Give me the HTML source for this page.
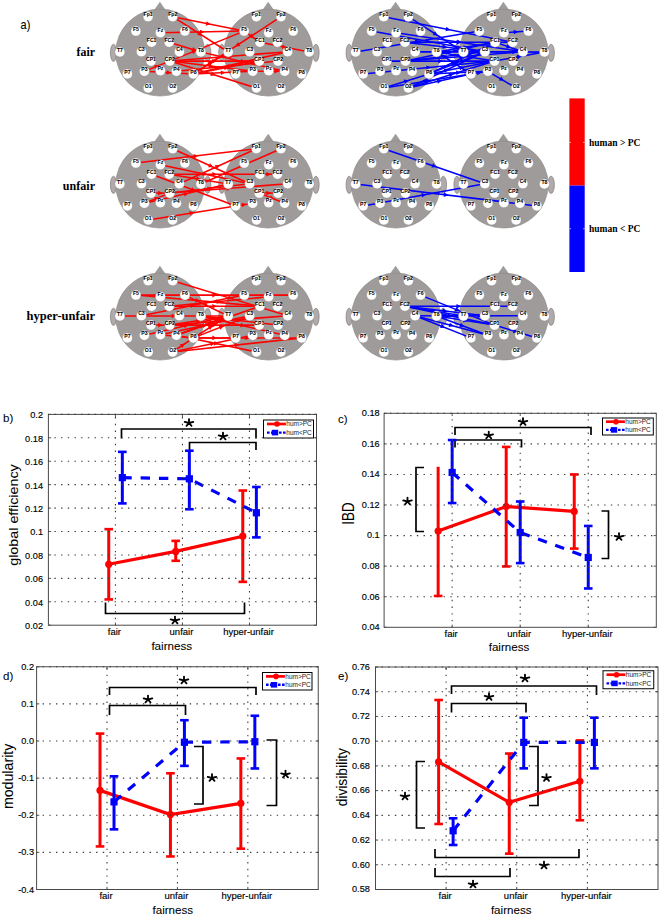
<!DOCTYPE html><html><head><meta charset="utf-8"><style>html,body{margin:0;padding:0;background:#fff;}svg{display:block;}text{font-family:"Liberation Sans",sans-serif;}.t{fill:#000;stroke:#000;stroke-width:0.15px;}</style></head><body>
<svg width="660" height="916" viewBox="0 0 660 916">
<defs><g id="headbg">
<ellipse cx="-46.4" cy="0.3" rx="3.1" ry="8.6" fill="#b1aaaa" stroke="#7f7b7b" stroke-width="0.7"/>
<ellipse cx="47.7" cy="0.3" rx="3.25" ry="8.6" fill="#b1aaaa" stroke="#7f7b7b" stroke-width="0.7"/>
<polygon points="-5.6,-42.2 0,-50.3 5.6,-42.2" fill="#9f9b9a" stroke="#8c8888" stroke-width="0.5"/>
<ellipse cx="0.3" cy="0.1" rx="44.5" ry="43.5" fill="#9f9b9a" stroke="#8c8888" stroke-width="0.6"/>
</g>
<g id="headfg">
<circle cx="-11.8" cy="-35.8" r="5.0" fill="#fff" stroke="#8a8a8a" stroke-width="0.4"/>
<circle cx="12.8" cy="-35.8" r="5.0" fill="#fff" stroke="#8a8a8a" stroke-width="0.4"/>
<circle cx="-24.0" cy="-21.400000000000002" r="5.0" fill="#fff" stroke="#8a8a8a" stroke-width="0.4"/>
<circle cx="0.5" cy="-19.8" r="5.0" fill="#fff" stroke="#8a8a8a" stroke-width="0.4"/>
<circle cx="25.0" cy="-21.400000000000002" r="5.0" fill="#fff" stroke="#8a8a8a" stroke-width="0.4"/>
<circle cx="-8.3" cy="-10.3" r="5.0" fill="#fff" stroke="#8a8a8a" stroke-width="0.4"/>
<circle cx="9.3" cy="-10.3" r="5.0" fill="#fff" stroke="#8a8a8a" stroke-width="0.4"/>
<circle cx="-40.0" cy="-0.49999999999999994" r="5.0" fill="#fff" stroke="#8a8a8a" stroke-width="0.4"/>
<circle cx="-18.5" cy="-0.8" r="5.0" fill="#fff" stroke="#8a8a8a" stroke-width="0.4"/>
<circle cx="19.5" cy="-0.8" r="5.0" fill="#fff" stroke="#8a8a8a" stroke-width="0.4"/>
<circle cx="41.0" cy="-0.49999999999999994" r="5.0" fill="#fff" stroke="#8a8a8a" stroke-width="0.4"/>
<circle cx="-8.9" cy="8.6" r="5.0" fill="#fff" stroke="#8a8a8a" stroke-width="0.4"/>
<circle cx="9.9" cy="8.6" r="5.0" fill="#fff" stroke="#8a8a8a" stroke-width="0.4"/>
<circle cx="-32.5" cy="21.4" r="5.0" fill="#fff" stroke="#8a8a8a" stroke-width="0.4"/>
<circle cx="-15.5" cy="18.8" r="5.0" fill="#fff" stroke="#8a8a8a" stroke-width="0.4"/>
<circle cx="0.5" cy="18.2" r="5.0" fill="#fff" stroke="#8a8a8a" stroke-width="0.4"/>
<circle cx="16.5" cy="18.8" r="5.0" fill="#fff" stroke="#8a8a8a" stroke-width="0.4"/>
<circle cx="33.5" cy="21.4" r="5.0" fill="#fff" stroke="#8a8a8a" stroke-width="0.4"/>
<circle cx="-11.7" cy="35.5" r="5.0" fill="#fff" stroke="#8a8a8a" stroke-width="0.4"/>
<circle cx="12.7" cy="35.5" r="5.0" fill="#fff" stroke="#8a8a8a" stroke-width="0.4"/>
<text x="-11.8" y="-36.2" text-anchor="middle" font-family="Liberation Sans" font-weight="bold" font-size="5.1" fill="#000" stroke="#000" stroke-width="0.05">Fp1</text>
<text x="12.8" y="-36.2" text-anchor="middle" font-family="Liberation Sans" font-weight="bold" font-size="5.1" fill="#000" stroke="#000" stroke-width="0.05">Fp2</text>
<text x="-24.0" y="-21.8" text-anchor="middle" font-family="Liberation Sans" font-weight="bold" font-size="5.1" fill="#000" stroke="#000" stroke-width="0.05">F5</text>
<text x="0.5" y="-20.2" text-anchor="middle" font-family="Liberation Sans" font-weight="bold" font-size="5.1" fill="#000" stroke="#000" stroke-width="0.05">Fz</text>
<text x="25.0" y="-21.8" text-anchor="middle" font-family="Liberation Sans" font-weight="bold" font-size="5.1" fill="#000" stroke="#000" stroke-width="0.05">F6</text>
<text x="-8.3" y="-10.7" text-anchor="middle" font-family="Liberation Sans" font-weight="bold" font-size="5.1" fill="#000" stroke="#000" stroke-width="0.05">FC1</text>
<text x="9.3" y="-10.7" text-anchor="middle" font-family="Liberation Sans" font-weight="bold" font-size="5.1" fill="#000" stroke="#000" stroke-width="0.05">FC2</text>
<text x="-40.0" y="-0.9" text-anchor="middle" font-family="Liberation Sans" font-weight="bold" font-size="5.1" fill="#000" stroke="#000" stroke-width="0.05">T7</text>
<text x="-18.5" y="-1.2" text-anchor="middle" font-family="Liberation Sans" font-weight="bold" font-size="5.1" fill="#000" stroke="#000" stroke-width="0.05">C3</text>
<text x="19.5" y="-1.2" text-anchor="middle" font-family="Liberation Sans" font-weight="bold" font-size="5.1" fill="#000" stroke="#000" stroke-width="0.05">C4</text>
<text x="41.0" y="-0.9" text-anchor="middle" font-family="Liberation Sans" font-weight="bold" font-size="5.1" fill="#000" stroke="#000" stroke-width="0.05">T8</text>
<text x="-8.9" y="8.2" text-anchor="middle" font-family="Liberation Sans" font-weight="bold" font-size="5.1" fill="#000" stroke="#000" stroke-width="0.05">CP1</text>
<text x="9.9" y="8.2" text-anchor="middle" font-family="Liberation Sans" font-weight="bold" font-size="5.1" fill="#000" stroke="#000" stroke-width="0.05">CP2</text>
<text x="-32.5" y="21.0" text-anchor="middle" font-family="Liberation Sans" font-weight="bold" font-size="5.1" fill="#000" stroke="#000" stroke-width="0.05">P7</text>
<text x="-15.5" y="18.4" text-anchor="middle" font-family="Liberation Sans" font-weight="bold" font-size="5.1" fill="#000" stroke="#000" stroke-width="0.05">P3</text>
<text x="0.5" y="17.8" text-anchor="middle" font-family="Liberation Sans" font-weight="bold" font-size="5.1" fill="#000" stroke="#000" stroke-width="0.05">Pz</text>
<text x="16.5" y="18.4" text-anchor="middle" font-family="Liberation Sans" font-weight="bold" font-size="5.1" fill="#000" stroke="#000" stroke-width="0.05">P4</text>
<text x="33.5" y="21.0" text-anchor="middle" font-family="Liberation Sans" font-weight="bold" font-size="5.1" fill="#000" stroke="#000" stroke-width="0.05">P8</text>
<text x="-11.7" y="35.1" text-anchor="middle" font-family="Liberation Sans" font-weight="bold" font-size="5.1" fill="#000" stroke="#000" stroke-width="0.05">O1</text>
<text x="12.7" y="35.1" text-anchor="middle" font-family="Liberation Sans" font-weight="bold" font-size="5.1" fill="#000" stroke="#000" stroke-width="0.05">O2</text>
</g><path id="star" d="M0,0 L0,-3.9 M0,0 L-4.3,-1.1 M0,0 L4.3,-1.1 M0,0 L-2.5,2.8 M0,0 L2.5,2.8" stroke="#000" stroke-width="1.85" stroke-linecap="round" fill="none"/></defs>
<rect width="660" height="916" fill="#fff"/>
<use href="#headbg" x="159.9" y="52.5"/>
<use href="#headbg" x="268.2" y="52.5"/>
<line x1="172.7" y1="16.7" x2="244.2" y2="31.1" stroke="#f00" stroke-width="1.55"/>
<polygon points="2.3,0 -2.3,-2.3 -2.3,2.3" fill="#f00" transform="translate(208.4,23.9) rotate(11.4)"/>
<line x1="172.7" y1="16.7" x2="228.2" y2="52.0" stroke="#f00" stroke-width="1.55"/>
<polygon points="2.3,0 -2.3,-2.3 -2.3,2.3" fill="#f00" transform="translate(200.4,34.4) rotate(32.5)"/>
<line x1="160.4" y1="32.7" x2="244.2" y2="31.1" stroke="#f00" stroke-width="1.55"/>
<polygon points="2.3,0 -2.3,-2.3 -2.3,2.3" fill="#f00" transform="translate(202.3,31.9) rotate(-1.1)"/>
<line x1="169.2" y1="42.2" x2="200.9" y2="52.0" stroke="#f00" stroke-width="1.55"/>
<polygon points="2.3,0 -2.3,-2.3 -2.3,2.3" fill="#f00" transform="translate(194.6,50.0) rotate(17.2)"/>
<line x1="169.8" y1="61.1" x2="244.2" y2="31.1" stroke="#f00" stroke-width="1.55"/>
<polygon points="2.3,0 -2.3,-2.3 -2.3,2.3" fill="#f00" transform="translate(194.4,51.2) rotate(-22.0)"/>
<line x1="200.9" y1="52.0" x2="284.7" y2="71.3" stroke="#f00" stroke-width="1.55"/>
<polygon points="2.3,0 -2.3,-2.3 -2.3,2.3" fill="#f00" transform="translate(242.8,61.6) rotate(13.0)"/>
<line x1="281.0" y1="16.7" x2="193.4" y2="73.9" stroke="#f00" stroke-width="1.55"/>
<polygon points="2.3,0 -2.3,-2.3 -2.3,2.3" fill="#f00" transform="translate(237.2,45.3) rotate(146.9)"/>
<line x1="244.2" y1="31.1" x2="259.9" y2="42.2" stroke="#f00" stroke-width="1.55"/>
<polygon points="2.3,0 -2.3,-2.3 -2.3,2.3" fill="#f00" transform="translate(252.0,36.6) rotate(35.3)"/>
<line x1="259.9" y1="42.2" x2="309.2" y2="52.0" stroke="#f00" stroke-width="1.55"/>
<polygon points="2.3,0 -2.3,-2.3 -2.3,2.3" fill="#f00" transform="translate(284.5,47.1) rotate(11.2)"/>
<line x1="287.7" y1="51.7" x2="169.8" y2="61.1" stroke="#f00" stroke-width="1.55"/>
<polygon points="2.3,0 -2.3,-2.3 -2.3,2.3" fill="#f00" transform="translate(228.8,56.4) rotate(175.4)"/>
<line x1="169.8" y1="61.1" x2="259.3" y2="61.1" stroke="#f00" stroke-width="1.55"/>
<polygon points="2.3,0 -2.3,-2.3 -2.3,2.3" fill="#f00" transform="translate(214.6,61.1) rotate(0.0)"/>
<line x1="169.8" y1="61.1" x2="252.7" y2="71.3" stroke="#f00" stroke-width="1.55"/>
<polygon points="2.3,0 -2.3,-2.3 -2.3,2.3" fill="#f00" transform="translate(211.2,66.2) rotate(7.0)"/>
<line x1="169.8" y1="61.1" x2="256.5" y2="88.0" stroke="#f00" stroke-width="1.55"/>
<polygon points="2.3,0 -2.3,-2.3 -2.3,2.3" fill="#f00" transform="translate(213.2,74.5) rotate(17.2)"/>
<line x1="144.4" y1="71.3" x2="169.8" y2="61.1" stroke="#f00" stroke-width="1.55"/>
<polygon points="2.3,0 -2.3,-2.3 -2.3,2.3" fill="#f00" transform="translate(157.1,66.2) rotate(-21.9)"/>
<line x1="144.4" y1="71.3" x2="193.4" y2="73.9" stroke="#f00" stroke-width="1.55"/>
<polygon points="2.3,0 -2.3,-2.3 -2.3,2.3" fill="#f00" transform="translate(168.9,72.6) rotate(3.0)"/>
<line x1="252.7" y1="71.3" x2="284.7" y2="71.3" stroke="#f00" stroke-width="1.55"/>
<polygon points="2.3,0 -2.3,-2.3 -2.3,2.3" fill="#f00" transform="translate(276.7,71.3) rotate(0.0)"/>
<line x1="193.4" y1="73.9" x2="228.2" y2="52.0" stroke="#f00" stroke-width="1.55"/>
<polygon points="2.3,0 -2.3,-2.3 -2.3,2.3" fill="#f00" transform="translate(210.8,63.0) rotate(-32.2)"/>
<line x1="193.4" y1="73.9" x2="259.3" y2="61.1" stroke="#f00" stroke-width="1.55"/>
<polygon points="2.3,0 -2.3,-2.3 -2.3,2.3" fill="#f00" transform="translate(226.4,67.5) rotate(-11.0)"/>
<line x1="193.4" y1="73.9" x2="252.7" y2="71.3" stroke="#f00" stroke-width="1.55"/>
<polygon points="2.3,0 -2.3,-2.3 -2.3,2.3" fill="#f00" transform="translate(223.1,72.6) rotate(-2.5)"/>
<line x1="278.1" y1="61.1" x2="176.4" y2="71.3" stroke="#f00" stroke-width="1.55"/>
<polygon points="2.3,0 -2.3,-2.3 -2.3,2.3" fill="#f00" transform="translate(227.2,66.2) rotate(174.3)"/>
<line x1="287.7" y1="51.7" x2="193.4" y2="73.9" stroke="#f00" stroke-width="1.55"/>
<polygon points="2.3,0 -2.3,-2.3 -2.3,2.3" fill="#f00" transform="translate(240.6,62.8) rotate(166.8)"/>
<use href="#headfg" x="159.9" y="52.5"/>
<use href="#headfg" x="268.2" y="52.5"/>
<use href="#headbg" x="395.6" y="52.5"/>
<use href="#headbg" x="503.4" y="52.5"/>
<line x1="383.8" y1="16.7" x2="512.7" y2="42.2" stroke="#00f" stroke-width="1.55"/>
<polygon points="2.3,0 -2.3,-2.3 -2.3,2.3" fill="#00f" transform="translate(448.2,29.5) rotate(11.2)"/>
<line x1="408.4" y1="16.7" x2="463.4" y2="52.0" stroke="#00f" stroke-width="1.55"/>
<polygon points="2.3,0 -2.3,-2.3 -2.3,2.3" fill="#00f" transform="translate(435.9,34.4) rotate(32.7)"/>
<line x1="371.6" y1="31.1" x2="484.9" y2="51.7" stroke="#00f" stroke-width="1.55"/>
<polygon points="2.3,0 -2.3,-2.3 -2.3,2.3" fill="#00f" transform="translate(428.2,41.4) rotate(10.3)"/>
<line x1="355.6" y1="52.0" x2="479.4" y2="31.1" stroke="#00f" stroke-width="1.55"/>
<polygon points="2.3,0 -2.3,-2.3 -2.3,2.3" fill="#00f" transform="translate(417.5,41.5) rotate(-9.6)"/>
<line x1="404.9" y1="42.2" x2="484.9" y2="51.7" stroke="#00f" stroke-width="1.55"/>
<polygon points="2.3,0 -2.3,-2.3 -2.3,2.3" fill="#00f" transform="translate(444.9,47.0) rotate(6.8)"/>
<line x1="383.9" y1="88.0" x2="429.1" y2="73.9" stroke="#00f" stroke-width="1.55"/>
<polygon points="2.3,0 -2.3,-2.3 -2.3,2.3" fill="#00f" transform="translate(406.5,81.0) rotate(-17.3)"/>
<line x1="404.9" y1="42.2" x2="512.7" y2="42.2" stroke="#00f" stroke-width="1.55"/>
<polygon points="2.3,0 -2.3,-2.3 -2.3,2.3" fill="#00f" transform="translate(458.8,42.2) rotate(0.0)"/>
<line x1="415.1" y1="51.7" x2="484.9" y2="51.7" stroke="#00f" stroke-width="1.55"/>
<polygon points="2.3,0 -2.3,-2.3 -2.3,2.3" fill="#00f" transform="translate(450.0,51.7) rotate(0.0)"/>
<line x1="436.6" y1="52.0" x2="495.1" y2="42.2" stroke="#00f" stroke-width="1.55"/>
<polygon points="2.3,0 -2.3,-2.3 -2.3,2.3" fill="#00f" transform="translate(465.9,47.1) rotate(-9.5)"/>
<line x1="386.7" y1="61.1" x2="494.5" y2="61.1" stroke="#00f" stroke-width="1.55"/>
<polygon points="2.3,0 -2.3,-2.3 -2.3,2.3" fill="#00f" transform="translate(440.6,61.1) rotate(0.0)"/>
<line x1="363.1" y1="73.9" x2="494.5" y2="61.1" stroke="#00f" stroke-width="1.55"/>
<polygon points="2.3,0 -2.3,-2.3 -2.3,2.3" fill="#00f" transform="translate(428.8,67.5) rotate(-5.6)"/>
<line x1="383.9" y1="88.0" x2="470.9" y2="73.9" stroke="#00f" stroke-width="1.55"/>
<polygon points="2.3,0 -2.3,-2.3 -2.3,2.3" fill="#00f" transform="translate(427.4,81.0) rotate(-9.2)"/>
<line x1="408.3" y1="88.0" x2="484.9" y2="51.7" stroke="#00f" stroke-width="1.55"/>
<polygon points="2.3,0 -2.3,-2.3 -2.3,2.3" fill="#00f" transform="translate(446.6,69.8) rotate(-25.4)"/>
<line x1="408.3" y1="88.0" x2="494.5" y2="61.1" stroke="#00f" stroke-width="1.55"/>
<polygon points="2.3,0 -2.3,-2.3 -2.3,2.3" fill="#00f" transform="translate(451.4,74.5) rotate(-17.3)"/>
<line x1="429.1" y1="73.9" x2="495.1" y2="42.2" stroke="#00f" stroke-width="1.55"/>
<polygon points="2.3,0 -2.3,-2.3 -2.3,2.3" fill="#00f" transform="translate(462.1,58.1) rotate(-25.7)"/>
<line x1="429.1" y1="73.9" x2="484.9" y2="51.7" stroke="#00f" stroke-width="1.55"/>
<polygon points="2.3,0 -2.3,-2.3 -2.3,2.3" fill="#00f" transform="translate(457.0,62.8) rotate(-21.7)"/>
<line x1="429.1" y1="73.9" x2="487.9" y2="71.3" stroke="#00f" stroke-width="1.55"/>
<polygon points="2.3,0 -2.3,-2.3 -2.3,2.3" fill="#00f" transform="translate(458.5,72.6) rotate(-2.5)"/>
<line x1="405.5" y1="61.1" x2="484.9" y2="51.7" stroke="#00f" stroke-width="1.55"/>
<polygon points="2.3,0 -2.3,-2.3 -2.3,2.3" fill="#00f" transform="translate(445.2,56.4) rotate(-6.8)"/>
<line x1="436.6" y1="52.0" x2="494.5" y2="61.1" stroke="#00f" stroke-width="1.55"/>
<polygon points="2.3,0 -2.3,-2.3 -2.3,2.3" fill="#00f" transform="translate(465.6,56.5) rotate(8.9)"/>
<line x1="415.1" y1="51.7" x2="544.4" y2="52.0" stroke="#00f" stroke-width="1.55"/>
<polygon points="2.3,0 -2.3,-2.3 -2.3,2.3" fill="#00f" transform="translate(479.8,51.9) rotate(0.1)"/>
<line x1="495.1" y1="42.2" x2="522.9" y2="51.7" stroke="#00f" stroke-width="1.55"/>
<polygon points="2.3,0 -2.3,-2.3 -2.3,2.3" fill="#00f" transform="translate(509.0,47.0) rotate(18.9)"/>
<line x1="503.9" y1="32.7" x2="528.4" y2="31.1" stroke="#00f" stroke-width="1.55"/>
<polygon points="2.3,0 -2.3,-2.3 -2.3,2.3" fill="#00f" transform="translate(516.1,31.9) rotate(-3.7)"/>
<line x1="487.9" y1="71.3" x2="516.1" y2="88.0" stroke="#00f" stroke-width="1.55"/>
<polygon points="2.3,0 -2.3,-2.3 -2.3,2.3" fill="#00f" transform="translate(502.0,79.7) rotate(30.6)"/>
<line x1="470.9" y1="73.9" x2="487.9" y2="71.3" stroke="#00f" stroke-width="1.55"/>
<polygon points="2.3,0 -2.3,-2.3 -2.3,2.3" fill="#00f" transform="translate(479.4,72.6) rotate(-8.7)"/>
<line x1="484.9" y1="51.7" x2="544.4" y2="52.0" stroke="#00f" stroke-width="1.55"/>
<polygon points="2.3,0 -2.3,-2.3 -2.3,2.3" fill="#00f" transform="translate(514.6,51.9) rotate(0.3)"/>
<line x1="405.5" y1="61.1" x2="495.1" y2="42.2" stroke="#00f" stroke-width="1.55"/>
<polygon points="2.3,0 -2.3,-2.3 -2.3,2.3" fill="#00f" transform="translate(450.3,51.7) rotate(-11.9)"/>
<line x1="408.3" y1="88.0" x2="470.9" y2="73.9" stroke="#00f" stroke-width="1.55"/>
<polygon points="2.3,0 -2.3,-2.3 -2.3,2.3" fill="#00f" transform="translate(439.6,81.0) rotate(-12.7)"/>
<line x1="429.1" y1="73.9" x2="494.5" y2="61.1" stroke="#00f" stroke-width="1.55"/>
<polygon points="2.3,0 -2.3,-2.3 -2.3,2.3" fill="#00f" transform="translate(461.8,67.5) rotate(-11.1)"/>
<line x1="436.6" y1="52.0" x2="470.9" y2="73.9" stroke="#00f" stroke-width="1.55"/>
<polygon points="2.3,0 -2.3,-2.3 -2.3,2.3" fill="#00f" transform="translate(453.8,63.0) rotate(32.6)"/>
<line x1="494.5" y1="61.1" x2="544.4" y2="52.0" stroke="#00f" stroke-width="1.55"/>
<polygon points="2.3,0 -2.3,-2.3 -2.3,2.3" fill="#00f" transform="translate(519.5,56.5) rotate(-10.3)"/>
<line x1="405.5" y1="61.1" x2="522.9" y2="51.7" stroke="#00f" stroke-width="1.55"/>
<polygon points="2.3,0 -2.3,-2.3 -2.3,2.3" fill="#00f" transform="translate(464.2,56.4) rotate(-4.6)"/>
<line x1="396.1" y1="32.7" x2="522.9" y2="51.7" stroke="#00f" stroke-width="1.55"/>
<polygon points="2.3,0 -2.3,-2.3 -2.3,2.3" fill="#00f" transform="translate(459.5,42.2) rotate(8.5)"/>
<use href="#headfg" x="395.6" y="52.5"/>
<use href="#headfg" x="503.4" y="52.5"/>
<use href="#headbg" x="159.9" y="184.5"/>
<use href="#headbg" x="268.2" y="184.5"/>
<line x1="135.9" y1="163.1" x2="256.4" y2="148.7" stroke="#f00" stroke-width="1.55"/>
<polygon points="2.3,0 -2.3,-2.3 -2.3,2.3" fill="#f00" transform="translate(196.1,155.9) rotate(-6.8)"/>
<line x1="172.7" y1="148.7" x2="249.7" y2="183.7" stroke="#f00" stroke-width="1.55"/>
<polygon points="2.3,0 -2.3,-2.3 -2.3,2.3" fill="#f00" transform="translate(211.2,166.2) rotate(24.4)"/>
<line x1="160.4" y1="164.7" x2="249.7" y2="183.7" stroke="#f00" stroke-width="1.55"/>
<polygon points="2.3,0 -2.3,-2.3 -2.3,2.3" fill="#f00" transform="translate(205.1,174.2) rotate(12.0)"/>
<line x1="169.2" y1="174.2" x2="259.9" y2="174.2" stroke="#f00" stroke-width="1.55"/>
<polygon points="2.3,0 -2.3,-2.3 -2.3,2.3" fill="#f00" transform="translate(214.6,174.2) rotate(0.0)"/>
<line x1="169.2" y1="174.2" x2="228.2" y2="184.0" stroke="#f00" stroke-width="1.55"/>
<polygon points="2.3,0 -2.3,-2.3 -2.3,2.3" fill="#f00" transform="translate(198.7,179.1) rotate(9.4)"/>
<line x1="151.6" y1="174.2" x2="235.7" y2="205.9" stroke="#f00" stroke-width="1.55"/>
<polygon points="2.3,0 -2.3,-2.3 -2.3,2.3" fill="#f00" transform="translate(193.6,190.1) rotate(20.7)"/>
<line x1="169.8" y1="193.1" x2="287.7" y2="183.7" stroke="#f00" stroke-width="1.55"/>
<polygon points="2.3,0 -2.3,-2.3 -2.3,2.3" fill="#f00" transform="translate(228.8,188.4) rotate(-4.6)"/>
<line x1="169.8" y1="193.1" x2="249.7" y2="183.7" stroke="#f00" stroke-width="1.55"/>
<polygon points="2.3,0 -2.3,-2.3 -2.3,2.3" fill="#f00" transform="translate(209.8,188.4) rotate(-6.7)"/>
<line x1="144.4" y1="203.3" x2="169.8" y2="193.1" stroke="#f00" stroke-width="1.55"/>
<polygon points="2.3,0 -2.3,-2.3 -2.3,2.3" fill="#f00" transform="translate(157.1,198.2) rotate(-21.9)"/>
<line x1="144.4" y1="203.3" x2="228.2" y2="184.0" stroke="#f00" stroke-width="1.55"/>
<polygon points="2.3,0 -2.3,-2.3 -2.3,2.3" fill="#f00" transform="translate(186.3,193.7) rotate(-13.0)"/>
<line x1="151.0" y1="193.1" x2="169.8" y2="193.1" stroke="#f00" stroke-width="1.55"/>
<polygon points="2.3,0 -2.3,-2.3 -2.3,2.3" fill="#f00" transform="translate(160.4,193.1) rotate(0.0)"/>
<line x1="148.2" y1="220.0" x2="235.7" y2="205.9" stroke="#f00" stroke-width="1.55"/>
<polygon points="2.3,0 -2.3,-2.3 -2.3,2.3" fill="#f00" transform="translate(191.9,212.9) rotate(-9.2)"/>
<line x1="281.0" y1="148.7" x2="200.9" y2="184.0" stroke="#f00" stroke-width="1.55"/>
<polygon points="2.3,0 -2.3,-2.3 -2.3,2.3" fill="#f00" transform="translate(240.9,166.3) rotate(156.2)"/>
<line x1="259.9" y1="174.2" x2="277.5" y2="174.2" stroke="#f00" stroke-width="1.55"/>
<polygon points="2.3,0 -2.3,-2.3 -2.3,2.3" fill="#f00" transform="translate(268.7,174.2) rotate(0.0)"/>
<line x1="259.3" y1="193.1" x2="284.7" y2="203.3" stroke="#f00" stroke-width="1.55"/>
<polygon points="2.3,0 -2.3,-2.3 -2.3,2.3" fill="#f00" transform="translate(272.0,198.2) rotate(21.9)"/>
<line x1="259.3" y1="193.1" x2="278.1" y2="193.1" stroke="#f00" stroke-width="1.55"/>
<polygon points="2.3,0 -2.3,-2.3 -2.3,2.3" fill="#f00" transform="translate(268.7,193.1) rotate(0.0)"/>
<line x1="235.7" y1="205.9" x2="252.7" y2="203.3" stroke="#f00" stroke-width="1.55"/>
<polygon points="2.3,0 -2.3,-2.3 -2.3,2.3" fill="#f00" transform="translate(244.2,204.6) rotate(-8.7)"/>
<line x1="179.4" y1="183.7" x2="256.4" y2="148.7" stroke="#f00" stroke-width="1.55"/>
<polygon points="2.3,0 -2.3,-2.3 -2.3,2.3" fill="#f00" transform="translate(217.9,166.2) rotate(-24.4)"/>
<use href="#headfg" x="159.9" y="184.5"/>
<use href="#headfg" x="268.2" y="184.5"/>
<use href="#headbg" x="395.6" y="184.5"/>
<use href="#headbg" x="503.4" y="184.5"/>
<line x1="383.8" y1="148.7" x2="484.9" y2="183.7" stroke="#00f" stroke-width="1.55"/>
<polygon points="2.3,0 -2.3,-2.3 -2.3,2.3" fill="#00f" transform="translate(434.4,166.2) rotate(19.1)"/>
<line x1="355.6" y1="184.0" x2="536.9" y2="205.9" stroke="#00f" stroke-width="1.55"/>
<polygon points="2.3,0 -2.3,-2.3 -2.3,2.3" fill="#00f" transform="translate(446.2,194.9) rotate(6.9)"/>
<line x1="363.1" y1="205.9" x2="484.9" y2="183.7" stroke="#00f" stroke-width="1.55"/>
<polygon points="2.3,0 -2.3,-2.3 -2.3,2.3" fill="#00f" transform="translate(424.0,194.8) rotate(-10.3)"/>
<use href="#headfg" x="395.6" y="184.5"/>
<use href="#headfg" x="503.4" y="184.5"/>
<use href="#headbg" x="159.9" y="316.5"/>
<use href="#headbg" x="268.2" y="316.5"/>
<line x1="172.7" y1="280.7" x2="287.7" y2="315.7" stroke="#f00" stroke-width="1.55"/>
<polygon points="2.3,0 -2.3,-2.3 -2.3,2.3" fill="#f00" transform="translate(230.2,298.2) rotate(16.9)"/>
<line x1="135.9" y1="295.1" x2="293.2" y2="295.1" stroke="#f00" stroke-width="1.55"/>
<polygon points="2.3,0 -2.3,-2.3 -2.3,2.3" fill="#f00" transform="translate(214.6,295.1) rotate(0.0)"/>
<line x1="135.9" y1="295.1" x2="259.9" y2="306.2" stroke="#f00" stroke-width="1.55"/>
<polygon points="2.3,0 -2.3,-2.3 -2.3,2.3" fill="#f00" transform="translate(197.9,300.6) rotate(5.1)"/>
<line x1="141.4" y1="315.7" x2="244.2" y2="295.1" stroke="#f00" stroke-width="1.55"/>
<polygon points="2.3,0 -2.3,-2.3 -2.3,2.3" fill="#f00" transform="translate(192.8,305.4) rotate(-11.3)"/>
<line x1="184.9" y1="295.1" x2="228.2" y2="316.0" stroke="#f00" stroke-width="1.55"/>
<polygon points="2.3,0 -2.3,-2.3 -2.3,2.3" fill="#f00" transform="translate(206.6,305.6) rotate(25.8)"/>
<line x1="169.2" y1="306.2" x2="259.9" y2="306.2" stroke="#f00" stroke-width="1.55"/>
<polygon points="2.3,0 -2.3,-2.3 -2.3,2.3" fill="#f00" transform="translate(214.6,306.2) rotate(0.0)"/>
<line x1="169.2" y1="306.2" x2="268.7" y2="296.7" stroke="#f00" stroke-width="1.55"/>
<polygon points="2.3,0 -2.3,-2.3 -2.3,2.3" fill="#f00" transform="translate(218.9,301.4) rotate(-5.5)"/>
<line x1="119.9" y1="316.0" x2="228.2" y2="316.0" stroke="#f00" stroke-width="1.55"/>
<polygon points="2.3,0 -2.3,-2.3 -2.3,2.3" fill="#f00" transform="translate(174.1,316.0) rotate(0.0)"/>
<line x1="169.8" y1="325.1" x2="228.2" y2="316.0" stroke="#f00" stroke-width="1.55"/>
<polygon points="2.3,0 -2.3,-2.3 -2.3,2.3" fill="#f00" transform="translate(199.0,320.6) rotate(-8.9)"/>
<line x1="169.8" y1="325.1" x2="287.7" y2="315.7" stroke="#f00" stroke-width="1.55"/>
<polygon points="2.3,0 -2.3,-2.3 -2.3,2.3" fill="#f00" transform="translate(228.8,320.4) rotate(-4.6)"/>
<line x1="144.4" y1="335.3" x2="228.2" y2="316.0" stroke="#f00" stroke-width="1.55"/>
<polygon points="2.3,0 -2.3,-2.3 -2.3,2.3" fill="#f00" transform="translate(186.3,325.6) rotate(-13.0)"/>
<line x1="176.4" y1="335.3" x2="228.2" y2="316.0" stroke="#f00" stroke-width="1.55"/>
<polygon points="2.3,0 -2.3,-2.3 -2.3,2.3" fill="#f00" transform="translate(202.3,325.6) rotate(-20.4)"/>
<line x1="193.4" y1="337.9" x2="228.2" y2="316.0" stroke="#f00" stroke-width="1.55"/>
<polygon points="2.3,0 -2.3,-2.3 -2.3,2.3" fill="#f00" transform="translate(210.8,326.9) rotate(-32.2)"/>
<line x1="193.4" y1="337.9" x2="249.7" y2="315.7" stroke="#f00" stroke-width="1.55"/>
<polygon points="2.3,0 -2.3,-2.3 -2.3,2.3" fill="#f00" transform="translate(221.6,326.8) rotate(-21.5)"/>
<line x1="193.4" y1="337.9" x2="235.7" y2="337.9" stroke="#f00" stroke-width="1.55"/>
<polygon points="2.3,0 -2.3,-2.3 -2.3,2.3" fill="#f00" transform="translate(214.6,337.9) rotate(0.0)"/>
<line x1="193.4" y1="337.9" x2="301.7" y2="337.9" stroke="#f00" stroke-width="1.55"/>
<polygon points="2.3,0 -2.3,-2.3 -2.3,2.3" fill="#f00" transform="translate(247.6,337.9) rotate(0.0)"/>
<line x1="172.6" y1="352.0" x2="252.7" y2="335.3" stroke="#f00" stroke-width="1.55"/>
<polygon points="2.3,0 -2.3,-2.3 -2.3,2.3" fill="#f00" transform="translate(212.6,343.6) rotate(-11.8)"/>
<line x1="172.6" y1="352.0" x2="193.4" y2="337.9" stroke="#f00" stroke-width="1.55"/>
<polygon points="2.3,0 -2.3,-2.3 -2.3,2.3" fill="#f00" transform="translate(183.0,344.9) rotate(-34.1)"/>
<line x1="172.6" y1="352.0" x2="301.7" y2="337.9" stroke="#f00" stroke-width="1.55"/>
<polygon points="2.3,0 -2.3,-2.3 -2.3,2.3" fill="#f00" transform="translate(237.1,344.9) rotate(-6.2)"/>
<line x1="176.4" y1="335.3" x2="256.5" y2="352.0" stroke="#f00" stroke-width="1.55"/>
<polygon points="2.3,0 -2.3,-2.3 -2.3,2.3" fill="#f00" transform="translate(216.4,343.6) rotate(11.8)"/>
<line x1="176.4" y1="335.3" x2="259.9" y2="306.2" stroke="#f00" stroke-width="1.55"/>
<polygon points="2.3,0 -2.3,-2.3 -2.3,2.3" fill="#f00" transform="translate(218.1,320.8) rotate(-19.2)"/>
<line x1="160.4" y1="334.7" x2="249.7" y2="315.7" stroke="#f00" stroke-width="1.55"/>
<polygon points="2.3,0 -2.3,-2.3 -2.3,2.3" fill="#f00" transform="translate(205.1,325.2) rotate(-12.0)"/>
<line x1="151.0" y1="325.1" x2="169.8" y2="325.1" stroke="#f00" stroke-width="1.55"/>
<polygon points="2.3,0 -2.3,-2.3 -2.3,2.3" fill="#f00" transform="translate(160.4,325.1) rotate(0.0)"/>
<line x1="200.9" y1="316.0" x2="278.1" y2="325.1" stroke="#f00" stroke-width="1.55"/>
<polygon points="2.3,0 -2.3,-2.3 -2.3,2.3" fill="#f00" transform="translate(239.5,320.6) rotate(6.7)"/>
<line x1="200.9" y1="316.0" x2="284.7" y2="335.3" stroke="#f00" stroke-width="1.55"/>
<polygon points="2.3,0 -2.3,-2.3 -2.3,2.3" fill="#f00" transform="translate(242.8,325.6) rotate(13.0)"/>
<line x1="169.8" y1="325.1" x2="259.3" y2="325.1" stroke="#f00" stroke-width="1.55"/>
<polygon points="2.3,0 -2.3,-2.3 -2.3,2.3" fill="#f00" transform="translate(214.6,325.1) rotate(0.0)"/>
<line x1="160.4" y1="334.7" x2="193.4" y2="337.9" stroke="#f00" stroke-width="1.55"/>
<polygon points="2.3,0 -2.3,-2.3 -2.3,2.3" fill="#f00" transform="translate(176.9,336.3) rotate(5.5)"/>
<use href="#headfg" x="159.9" y="316.5"/>
<use href="#headfg" x="268.2" y="316.5"/>
<use href="#headbg" x="395.6" y="316.5"/>
<use href="#headbg" x="503.4" y="316.5"/>
<line x1="420.6" y1="295.1" x2="494.5" y2="325.1" stroke="#00f" stroke-width="1.55"/>
<polygon points="2.3,0 -2.3,-2.3 -2.3,2.3" fill="#00f" transform="translate(457.6,310.1) rotate(22.1)"/>
<line x1="404.9" y1="306.2" x2="512.7" y2="306.2" stroke="#00f" stroke-width="1.55"/>
<polygon points="2.3,0 -2.3,-2.3 -2.3,2.3" fill="#00f" transform="translate(458.8,306.2) rotate(0.0)"/>
<line x1="404.9" y1="306.2" x2="463.4" y2="316.0" stroke="#00f" stroke-width="1.55"/>
<polygon points="2.3,0 -2.3,-2.3 -2.3,2.3" fill="#00f" transform="translate(434.1,311.1) rotate(9.5)"/>
<line x1="404.9" y1="306.2" x2="484.9" y2="315.7" stroke="#00f" stroke-width="1.55"/>
<polygon points="2.3,0 -2.3,-2.3 -2.3,2.3" fill="#00f" transform="translate(444.9,310.9) rotate(6.8)"/>
<line x1="404.9" y1="306.2" x2="494.5" y2="325.1" stroke="#00f" stroke-width="1.55"/>
<polygon points="2.3,0 -2.3,-2.3 -2.3,2.3" fill="#00f" transform="translate(449.7,315.6) rotate(11.9)"/>
<line x1="415.1" y1="315.7" x2="470.9" y2="337.9" stroke="#00f" stroke-width="1.55"/>
<polygon points="2.3,0 -2.3,-2.3 -2.3,2.3" fill="#00f" transform="translate(443.0,326.8) rotate(21.7)"/>
<line x1="415.1" y1="315.7" x2="487.9" y2="335.3" stroke="#00f" stroke-width="1.55"/>
<polygon points="2.3,0 -2.3,-2.3 -2.3,2.3" fill="#00f" transform="translate(451.5,325.5) rotate(15.1)"/>
<line x1="436.6" y1="316.0" x2="522.9" y2="315.7" stroke="#00f" stroke-width="1.55"/>
<polygon points="2.3,0 -2.3,-2.3 -2.3,2.3" fill="#00f" transform="translate(479.8,315.9) rotate(-0.2)"/>
<line x1="436.6" y1="316.0" x2="494.5" y2="325.1" stroke="#00f" stroke-width="1.55"/>
<polygon points="2.3,0 -2.3,-2.3 -2.3,2.3" fill="#00f" transform="translate(465.6,320.6) rotate(8.9)"/>
<line x1="415.1" y1="315.7" x2="463.4" y2="316.0" stroke="#00f" stroke-width="1.55"/>
<polygon points="2.3,0 -2.3,-2.3 -2.3,2.3" fill="#00f" transform="translate(439.2,315.9) rotate(0.4)"/>
<line x1="494.5" y1="325.1" x2="536.9" y2="337.9" stroke="#00f" stroke-width="1.55"/>
<polygon points="2.3,0 -2.3,-2.3 -2.3,2.3" fill="#00f" transform="translate(515.7,331.5) rotate(16.8)"/>
<line x1="436.6" y1="316.0" x2="487.9" y2="335.3" stroke="#00f" stroke-width="1.55"/>
<polygon points="2.3,0 -2.3,-2.3 -2.3,2.3" fill="#00f" transform="translate(462.2,325.6) rotate(20.6)"/>
<use href="#headfg" x="395.6" y="316.5"/>
<use href="#headfg" x="503.4" y="316.5"/>
<text transform="translate(20.6,29.4) scale(0.95,1.1)" font-size="11.5" class="t" style="stroke-width:0.1px">a)</text>
<text x="76.6" y="55.8" textLength="18.4" lengthAdjust="spacingAndGlyphs" font-family="Liberation Serif" style="font-family:'Liberation Serif'" font-weight="bold" font-size="12" fill="#000">fair</text>
<text x="62.8" y="189.5" textLength="32.2" lengthAdjust="spacingAndGlyphs" font-family="Liberation Serif" style="font-family:'Liberation Serif'" font-weight="bold" font-size="12" fill="#000">unfair</text>
<text x="26.6" y="319.5" textLength="68.4" lengthAdjust="spacingAndGlyphs" font-family="Liberation Serif" style="font-family:'Liberation Serif'" font-weight="bold" font-size="12" fill="#000">hyper-unfair</text>
<rect x="569.4" y="98.4" width="15.3" height="87.2" fill="#f00"/>
<rect x="569.4" y="185.6" width="15.3" height="86.4" fill="#00f"/>
<line x1="569.4" y1="142.4" x2="571" y2="142.4" stroke="#fff" stroke-width="0.6"/><line x1="583.1" y1="142.4" x2="584.7" y2="142.4" stroke="#fff" stroke-width="0.6"/>
<line x1="569.4" y1="228.7" x2="571" y2="228.7" stroke="#fff" stroke-width="0.6"/><line x1="583.1" y1="228.7" x2="584.7" y2="228.7" stroke="#fff" stroke-width="0.6"/>
<text x="589" y="146" textLength="51.4" lengthAdjust="spacingAndGlyphs" style="font-family:'Liberation Serif'" font-weight="bold" font-size="10" fill="#000">human &gt; PC</text>
<text x="589" y="232.3" textLength="51.4" lengthAdjust="spacingAndGlyphs" style="font-family:'Liberation Serif'" font-weight="bold" font-size="10" fill="#000">human &lt; PC</text>
<line x1="48.4" y1="625.20" x2="51.1" y2="625.20" stroke="#444" stroke-width="0.9"/>
<line x1="316.5" y1="625.20" x2="313.8" y2="625.20" stroke="#444" stroke-width="0.9"/>
<line x1="48.4" y1="601.78" x2="51.1" y2="601.78" stroke="#444" stroke-width="0.9"/>
<line x1="316.5" y1="601.78" x2="313.8" y2="601.78" stroke="#444" stroke-width="0.9"/>
<line x1="48.4" y1="578.36" x2="51.1" y2="578.36" stroke="#444" stroke-width="0.9"/>
<line x1="316.5" y1="578.36" x2="313.8" y2="578.36" stroke="#444" stroke-width="0.9"/>
<line x1="48.4" y1="554.93" x2="51.1" y2="554.93" stroke="#444" stroke-width="0.9"/>
<line x1="316.5" y1="554.93" x2="313.8" y2="554.93" stroke="#444" stroke-width="0.9"/>
<line x1="48.4" y1="531.51" x2="51.1" y2="531.51" stroke="#444" stroke-width="0.9"/>
<line x1="316.5" y1="531.51" x2="313.8" y2="531.51" stroke="#444" stroke-width="0.9"/>
<line x1="48.4" y1="508.09" x2="51.1" y2="508.09" stroke="#444" stroke-width="0.9"/>
<line x1="316.5" y1="508.09" x2="313.8" y2="508.09" stroke="#444" stroke-width="0.9"/>
<line x1="48.4" y1="484.67" x2="51.1" y2="484.67" stroke="#444" stroke-width="0.9"/>
<line x1="316.5" y1="484.67" x2="313.8" y2="484.67" stroke="#444" stroke-width="0.9"/>
<line x1="48.4" y1="461.24" x2="51.1" y2="461.24" stroke="#444" stroke-width="0.9"/>
<line x1="316.5" y1="461.24" x2="313.8" y2="461.24" stroke="#444" stroke-width="0.9"/>
<line x1="48.4" y1="437.82" x2="51.1" y2="437.82" stroke="#444" stroke-width="0.9"/>
<line x1="316.5" y1="437.82" x2="313.8" y2="437.82" stroke="#444" stroke-width="0.9"/>
<line x1="48.4" y1="414.40" x2="51.1" y2="414.40" stroke="#444" stroke-width="0.9"/>
<line x1="316.5" y1="414.40" x2="313.8" y2="414.40" stroke="#444" stroke-width="0.9"/>
<line x1="115.43" y1="625.2" x2="115.43" y2="622.5" stroke="#444" stroke-width="0.9"/>
<line x1="115.43" y1="414.4" x2="115.43" y2="417.09999999999997" stroke="#444" stroke-width="0.9"/>
<line x1="182.45" y1="625.2" x2="182.45" y2="622.5" stroke="#444" stroke-width="0.9"/>
<line x1="182.45" y1="414.4" x2="182.45" y2="417.09999999999997" stroke="#444" stroke-width="0.9"/>
<line x1="249.48" y1="625.2" x2="249.48" y2="622.5" stroke="#444" stroke-width="0.9"/>
<line x1="249.48" y1="414.4" x2="249.48" y2="417.09999999999997" stroke="#444" stroke-width="0.9"/>
<rect x="48.4" y="414.4" width="268.1" height="210.80000000000007" fill="none" stroke="#4a4a4a" stroke-width="1"/>
<text transform="translate(43.00,629.10) scale(1,1.08)" text-anchor="end" font-size="9.2" class="t">0.02</text>
<text transform="translate(43.00,605.68) scale(1,1.08)" text-anchor="end" font-size="9.2" class="t">0.04</text>
<text transform="translate(43.00,582.26) scale(1,1.08)" text-anchor="end" font-size="9.2" class="t">0.06</text>
<text transform="translate(43.00,558.83) scale(1,1.08)" text-anchor="end" font-size="9.2" class="t">0.08</text>
<text transform="translate(43.00,535.41) scale(1,1.08)" text-anchor="end" font-size="9.2" class="t">0.1</text>
<text transform="translate(43.00,511.99) scale(1,1.08)" text-anchor="end" font-size="9.2" class="t">0.12</text>
<text transform="translate(43.00,488.57) scale(1,1.08)" text-anchor="end" font-size="9.2" class="t">0.14</text>
<text transform="translate(43.00,465.14) scale(1,1.08)" text-anchor="end" font-size="9.2" class="t">0.16</text>
<text transform="translate(43.00,441.72) scale(1,1.08)" text-anchor="end" font-size="9.2" class="t">0.18</text>
<text transform="translate(43.00,418.30) scale(1,1.08)" text-anchor="end" font-size="9.2" class="t">0.2</text>
<text x="114.43" y="634.6" text-anchor="middle" font-size="9.5" class="t">fair</text>
<text x="181.45" y="634.6" text-anchor="middle" font-size="9.5" class="t">unfair</text>
<text x="248.48" y="634.6" text-anchor="middle" font-size="9.5" class="t">hyper-unfair</text>
<text x="171.7" y="649.5" text-anchor="middle" font-size="11.6" class="t" style="stroke-width:0.08px">fairness</text>
<text transform="translate(18.4,515) rotate(-90) scale(1.06,1)" text-anchor="middle" font-size="13.5" class="t" style="stroke-width:0.05px">global efficiency</text>
<text x="3" y="421.8" font-size="11.5" class="t" style="stroke-width:0.05px">b)</text>
<polyline points="121.5,438.5 121.5,429 256,429 256,438.5" fill="none" stroke="#000" stroke-width="1.7"/>
<polyline points="189.5,450 189.5,442.5 256,442.5 256,450" fill="none" stroke="#000" stroke-width="1.7"/>
<polyline points="105.5,602.5 105.5,613.5 244.5,613.5 244.5,602.5" fill="none" stroke="#000" stroke-width="1.7"/>
<use href="#star" x="189" y="423.0"/>
<use href="#star" x="223" y="436.5"/>
<use href="#star" x="175" y="620.5"/>
<line x1="108.73" y1="599.44" x2="108.73" y2="529.17" stroke="#f00" stroke-width="3"/>
<line x1="104.43" y1="599.44" x2="113.03" y2="599.44" stroke="#f00" stroke-width="2.6"/>
<line x1="104.43" y1="529.17" x2="113.03" y2="529.17" stroke="#f00" stroke-width="2.6"/>
<line x1="175.75" y1="560.79" x2="175.75" y2="540.88" stroke="#f00" stroke-width="3"/>
<line x1="171.45" y1="560.79" x2="180.05" y2="560.79" stroke="#f00" stroke-width="2.6"/>
<line x1="171.45" y1="540.88" x2="180.05" y2="540.88" stroke="#f00" stroke-width="2.6"/>
<line x1="242.78" y1="581.87" x2="242.78" y2="490.52" stroke="#f00" stroke-width="3"/>
<line x1="238.48" y1="581.87" x2="247.08" y2="581.87" stroke="#f00" stroke-width="2.6"/>
<line x1="238.48" y1="490.52" x2="247.08" y2="490.52" stroke="#f00" stroke-width="2.6"/>
<polyline points="108.73,564.30 175.75,551.42 242.78,536.20" fill="none" stroke="#f00" stroke-width="3.2"/>
<circle cx="108.73" cy="564.30" r="3.6" fill="#f00"/>
<circle cx="175.75" cy="551.42" r="3.6" fill="#f00"/>
<circle cx="242.78" cy="536.20" r="3.6" fill="#f00"/>
<line x1="122.33" y1="503.40" x2="122.33" y2="451.88" stroke="#00f" stroke-width="3"/>
<line x1="118.03" y1="503.40" x2="126.63" y2="503.40" stroke="#00f" stroke-width="2.6"/>
<line x1="118.03" y1="451.88" x2="126.63" y2="451.88" stroke="#00f" stroke-width="2.6"/>
<line x1="189.35" y1="509.26" x2="189.35" y2="450.70" stroke="#00f" stroke-width="3"/>
<line x1="185.05" y1="509.26" x2="193.65" y2="509.26" stroke="#00f" stroke-width="2.6"/>
<line x1="185.05" y1="450.70" x2="193.65" y2="450.70" stroke="#00f" stroke-width="2.6"/>
<line x1="256.38" y1="537.37" x2="256.38" y2="487.01" stroke="#00f" stroke-width="3"/>
<line x1="252.07" y1="537.37" x2="260.68" y2="537.37" stroke="#00f" stroke-width="2.6"/>
<line x1="252.07" y1="487.01" x2="260.68" y2="487.01" stroke="#00f" stroke-width="2.6"/>
<polyline points="122.33,477.64 189.35,478.81 256.38,512.77" fill="none" stroke="#00f" stroke-width="3.2" stroke-dasharray="9.4 8.9"/>
<rect x="118.73" y="474.04" width="7.2" height="7.2" fill="#00f"/>
<rect x="185.75" y="475.21" width="7.2" height="7.2" fill="#00f"/>
<rect x="252.78" y="509.17" width="7.2" height="7.2" fill="#00f"/>
<line x1="48.4" y1="601.78" x2="316.5" y2="601.78" stroke="#3a3a3a" stroke-width="1.1" stroke-dasharray="1.4 5.29" stroke-dashoffset="0.7"/>
<line x1="48.4" y1="578.36" x2="316.5" y2="578.36" stroke="#3a3a3a" stroke-width="1.1" stroke-dasharray="1.4 5.29" stroke-dashoffset="0.7"/>
<line x1="48.4" y1="554.93" x2="316.5" y2="554.93" stroke="#3a3a3a" stroke-width="1.1" stroke-dasharray="1.4 5.29" stroke-dashoffset="0.7"/>
<line x1="48.4" y1="531.51" x2="316.5" y2="531.51" stroke="#3a3a3a" stroke-width="1.1" stroke-dasharray="1.4 5.29" stroke-dashoffset="0.7"/>
<line x1="48.4" y1="508.09" x2="316.5" y2="508.09" stroke="#3a3a3a" stroke-width="1.1" stroke-dasharray="1.4 5.29" stroke-dashoffset="0.7"/>
<line x1="48.4" y1="484.67" x2="316.5" y2="484.67" stroke="#3a3a3a" stroke-width="1.1" stroke-dasharray="1.4 5.29" stroke-dashoffset="0.7"/>
<line x1="48.4" y1="461.24" x2="316.5" y2="461.24" stroke="#3a3a3a" stroke-width="1.1" stroke-dasharray="1.4 5.29" stroke-dashoffset="0.7"/>
<line x1="48.4" y1="437.82" x2="316.5" y2="437.82" stroke="#3a3a3a" stroke-width="1.1" stroke-dasharray="1.4 5.29" stroke-dashoffset="0.7"/>
<line x1="48.4" y1="414.40" x2="316.5" y2="414.40" stroke="#3a3a3a" stroke-width="1.1" stroke-dasharray="1.4 5.29" stroke-dashoffset="0.7"/>
<line x1="115.43" y1="625.2" x2="115.43" y2="414.4" stroke="#3a3a3a" stroke-width="1.1" stroke-dasharray="1.4 5.29" stroke-dashoffset="0.7"/>
<line x1="182.45" y1="625.2" x2="182.45" y2="414.4" stroke="#3a3a3a" stroke-width="1.1" stroke-dasharray="1.4 5.29" stroke-dashoffset="0.7"/>
<line x1="249.48" y1="625.2" x2="249.48" y2="414.4" stroke="#3a3a3a" stroke-width="1.1" stroke-dasharray="1.4 5.29" stroke-dashoffset="0.7"/>
<rect x="263.5" y="420" width="50.0" height="18" fill="#fff" stroke="#000" stroke-width="1"/>
<line x1="267.0" y1="424.0" x2="285.9" y2="424.0" stroke="#f00" stroke-width="2.7"/>
<circle cx="277.0" cy="424.0" r="2.8" fill="#f00"/>
<line x1="267.0" y1="432.6" x2="285.9" y2="432.6" stroke="#00f" stroke-width="2.4" stroke-dasharray="2.6 1.4"/>
<rect x="271.8" y="429.8" width="6.4" height="5.6" fill="#00f"/>
<text x="286.3" y="426.3" font-size="6.5" fill="#222">hum&gt;PC</text>
<text x="286.3" y="434.9" font-size="6.5" fill="#222">hum&lt;PC</text>
<line x1="384.1" y1="627.30" x2="386.8" y2="627.30" stroke="#444" stroke-width="0.9"/>
<line x1="656.3" y1="627.30" x2="653.5999999999999" y2="627.30" stroke="#444" stroke-width="0.9"/>
<line x1="384.1" y1="596.73" x2="386.8" y2="596.73" stroke="#444" stroke-width="0.9"/>
<line x1="656.3" y1="596.73" x2="653.5999999999999" y2="596.73" stroke="#444" stroke-width="0.9"/>
<line x1="384.1" y1="566.16" x2="386.8" y2="566.16" stroke="#444" stroke-width="0.9"/>
<line x1="656.3" y1="566.16" x2="653.5999999999999" y2="566.16" stroke="#444" stroke-width="0.9"/>
<line x1="384.1" y1="535.59" x2="386.8" y2="535.59" stroke="#444" stroke-width="0.9"/>
<line x1="656.3" y1="535.59" x2="653.5999999999999" y2="535.59" stroke="#444" stroke-width="0.9"/>
<line x1="384.1" y1="505.01" x2="386.8" y2="505.01" stroke="#444" stroke-width="0.9"/>
<line x1="656.3" y1="505.01" x2="653.5999999999999" y2="505.01" stroke="#444" stroke-width="0.9"/>
<line x1="384.1" y1="474.44" x2="386.8" y2="474.44" stroke="#444" stroke-width="0.9"/>
<line x1="656.3" y1="474.44" x2="653.5999999999999" y2="474.44" stroke="#444" stroke-width="0.9"/>
<line x1="384.1" y1="443.87" x2="386.8" y2="443.87" stroke="#444" stroke-width="0.9"/>
<line x1="656.3" y1="443.87" x2="653.5999999999999" y2="443.87" stroke="#444" stroke-width="0.9"/>
<line x1="384.1" y1="413.30" x2="386.8" y2="413.30" stroke="#444" stroke-width="0.9"/>
<line x1="656.3" y1="413.30" x2="653.5999999999999" y2="413.30" stroke="#444" stroke-width="0.9"/>
<line x1="452.15" y1="627.3" x2="452.15" y2="624.5999999999999" stroke="#444" stroke-width="0.9"/>
<line x1="452.15" y1="413.3" x2="452.15" y2="416.0" stroke="#444" stroke-width="0.9"/>
<line x1="520.20" y1="627.3" x2="520.20" y2="624.5999999999999" stroke="#444" stroke-width="0.9"/>
<line x1="520.20" y1="413.3" x2="520.20" y2="416.0" stroke="#444" stroke-width="0.9"/>
<line x1="588.25" y1="627.3" x2="588.25" y2="624.5999999999999" stroke="#444" stroke-width="0.9"/>
<line x1="588.25" y1="413.3" x2="588.25" y2="416.0" stroke="#444" stroke-width="0.9"/>
<rect x="384.1" y="413.3" width="272.19999999999993" height="213.99999999999994" fill="none" stroke="#4a4a4a" stroke-width="1"/>
<text transform="translate(379.70,630.20) scale(1,1.08)" text-anchor="end" font-size="9.2" class="t">0.04</text>
<text transform="translate(379.70,599.63) scale(1,1.08)" text-anchor="end" font-size="9.2" class="t">0.06</text>
<text transform="translate(379.70,569.06) scale(1,1.08)" text-anchor="end" font-size="9.2" class="t">0.08</text>
<text transform="translate(379.70,538.49) scale(1,1.08)" text-anchor="end" font-size="9.2" class="t">0.1</text>
<text transform="translate(379.70,507.91) scale(1,1.08)" text-anchor="end" font-size="9.2" class="t">0.12</text>
<text transform="translate(379.70,477.34) scale(1,1.08)" text-anchor="end" font-size="9.2" class="t">0.14</text>
<text transform="translate(379.70,446.77) scale(1,1.08)" text-anchor="end" font-size="9.2" class="t">0.16</text>
<text transform="translate(379.70,416.20) scale(1,1.08)" text-anchor="end" font-size="9.2" class="t">0.18</text>
<text x="451.15" y="636.6999999999999" text-anchor="middle" font-size="9.5" class="t">fair</text>
<text x="519.20" y="636.6999999999999" text-anchor="middle" font-size="9.5" class="t">unfair</text>
<text x="587.25" y="636.6999999999999" text-anchor="middle" font-size="9.5" class="t">hyper-unfair</text>
<text x="509" y="651.2" text-anchor="middle" font-size="11.6" class="t" style="stroke-width:0.08px">fairness</text>
<text transform="translate(353.6,513.5) rotate(-90) scale(0.84,1)" text-anchor="middle" font-size="16" class="t" style="stroke-width:0.05px">IBD</text>
<text x="338" y="423.0" font-size="11.5" class="t" style="stroke-width:0.05px">c)</text>
<polyline points="455,435 455,427.5 591,427.5 591,435" fill="none" stroke="#000" stroke-width="1.7"/>
<polyline points="455,447.5 455,440 521.5,440 521.5,447.5" fill="none" stroke="#000" stroke-width="1.7"/>
<polyline points="424,467.5 416,467.5 416,531.5 424,531.5" fill="none" stroke="#000" stroke-width="1.7"/>
<polyline points="601.5,511 608.5,511 608.5,558.5 601.5,558.5" fill="none" stroke="#000" stroke-width="1.7"/>
<use href="#star" x="523" y="422.0"/>
<use href="#star" x="488.75" y="435.5"/>
<use href="#star" x="407.5" y="501.5"/>
<use href="#star" x="619" y="537.0"/>
<line x1="438.15" y1="595.96" x2="438.15" y2="466.80" stroke="#f00" stroke-width="3"/>
<line x1="433.85" y1="595.96" x2="442.45" y2="595.96" stroke="#f00" stroke-width="2.6"/>
<line x1="506.20" y1="566.46" x2="506.20" y2="446.93" stroke="#f00" stroke-width="3"/>
<line x1="501.90" y1="566.46" x2="510.50" y2="566.46" stroke="#f00" stroke-width="2.6"/>
<line x1="501.90" y1="446.93" x2="510.50" y2="446.93" stroke="#f00" stroke-width="2.6"/>
<line x1="574.25" y1="548.58" x2="574.25" y2="474.44" stroke="#f00" stroke-width="3"/>
<line x1="569.95" y1="548.58" x2="578.55" y2="548.58" stroke="#f00" stroke-width="2.6"/>
<line x1="569.95" y1="474.44" x2="578.55" y2="474.44" stroke="#f00" stroke-width="2.6"/>
<polyline points="438.15,531.00 506.20,506.54 574.25,511.43" fill="none" stroke="#f00" stroke-width="3.2"/>
<circle cx="438.15" cy="531.00" r="3.6" fill="#f00"/>
<circle cx="506.20" cy="506.54" r="3.6" fill="#f00"/>
<circle cx="574.25" cy="511.43" r="3.6" fill="#f00"/>
<line x1="452.15" y1="503.03" x2="452.15" y2="440.05" stroke="#00f" stroke-width="3"/>
<line x1="447.85" y1="503.03" x2="456.45" y2="503.03" stroke="#00f" stroke-width="2.6"/>
<line x1="447.85" y1="440.05" x2="456.45" y2="440.05" stroke="#00f" stroke-width="2.6"/>
<line x1="520.20" y1="563.10" x2="520.20" y2="501.50" stroke="#00f" stroke-width="3"/>
<line x1="515.90" y1="563.10" x2="524.50" y2="563.10" stroke="#00f" stroke-width="2.6"/>
<line x1="515.90" y1="501.50" x2="524.50" y2="501.50" stroke="#00f" stroke-width="2.6"/>
<line x1="588.25" y1="588.47" x2="588.25" y2="525.96" stroke="#00f" stroke-width="3"/>
<line x1="583.95" y1="588.47" x2="592.55" y2="588.47" stroke="#00f" stroke-width="2.6"/>
<line x1="583.95" y1="525.96" x2="592.55" y2="525.96" stroke="#00f" stroke-width="2.6"/>
<polyline points="452.15,472.46 520.20,532.53 588.25,557.44" fill="none" stroke="#00f" stroke-width="3.2" stroke-dasharray="9.4 8.9"/>
<rect x="448.55" y="468.86" width="7.2" height="7.2" fill="#00f"/>
<rect x="516.60" y="528.93" width="7.2" height="7.2" fill="#00f"/>
<rect x="584.65" y="553.84" width="7.2" height="7.2" fill="#00f"/>
<line x1="384.1" y1="596.73" x2="656.3" y2="596.73" stroke="#3a3a3a" stroke-width="1.1" stroke-dasharray="1.4 5.29" stroke-dashoffset="0.7"/>
<line x1="384.1" y1="566.16" x2="656.3" y2="566.16" stroke="#3a3a3a" stroke-width="1.1" stroke-dasharray="1.4 5.29" stroke-dashoffset="0.7"/>
<line x1="384.1" y1="535.59" x2="656.3" y2="535.59" stroke="#3a3a3a" stroke-width="1.1" stroke-dasharray="1.4 5.29" stroke-dashoffset="0.7"/>
<line x1="384.1" y1="505.01" x2="656.3" y2="505.01" stroke="#3a3a3a" stroke-width="1.1" stroke-dasharray="1.4 5.29" stroke-dashoffset="0.7"/>
<line x1="384.1" y1="474.44" x2="656.3" y2="474.44" stroke="#3a3a3a" stroke-width="1.1" stroke-dasharray="1.4 5.29" stroke-dashoffset="0.7"/>
<line x1="384.1" y1="443.87" x2="656.3" y2="443.87" stroke="#3a3a3a" stroke-width="1.1" stroke-dasharray="1.4 5.29" stroke-dashoffset="0.7"/>
<line x1="384.1" y1="413.30" x2="656.3" y2="413.30" stroke="#3a3a3a" stroke-width="1.1" stroke-dasharray="1.4 5.29" stroke-dashoffset="0.7"/>
<line x1="452.15" y1="627.3" x2="452.15" y2="413.3" stroke="#3a3a3a" stroke-width="1.1" stroke-dasharray="1.4 5.29" stroke-dashoffset="0.7"/>
<line x1="520.20" y1="627.3" x2="520.20" y2="413.3" stroke="#3a3a3a" stroke-width="1.1" stroke-dasharray="1.4 5.29" stroke-dashoffset="0.7"/>
<line x1="588.25" y1="627.3" x2="588.25" y2="413.3" stroke="#3a3a3a" stroke-width="1.1" stroke-dasharray="1.4 5.29" stroke-dashoffset="0.7"/>
<rect x="602.5" y="418" width="50.799999999999955" height="17" fill="#fff" stroke="#000" stroke-width="1"/>
<line x1="606.0" y1="421.7" x2="624.9" y2="421.7" stroke="#f00" stroke-width="2.7"/>
<circle cx="616.0" cy="421.7" r="2.8" fill="#f00"/>
<line x1="606.0" y1="429.9" x2="624.9" y2="429.9" stroke="#00f" stroke-width="2.4" stroke-dasharray="2.6 1.4"/>
<rect x="610.8" y="427.1" width="6.4" height="5.6" fill="#00f"/>
<text x="625.3" y="424.0" font-size="6.5" fill="#222">hum&gt;PC</text>
<text x="625.3" y="432.2" font-size="6.5" fill="#222">hum&lt;PC</text>
<line x1="36.6" y1="889.50" x2="39.300000000000004" y2="889.50" stroke="#444" stroke-width="0.9"/>
<line x1="318.25" y1="889.50" x2="315.55" y2="889.50" stroke="#444" stroke-width="0.9"/>
<line x1="36.6" y1="852.38" x2="39.300000000000004" y2="852.38" stroke="#444" stroke-width="0.9"/>
<line x1="318.25" y1="852.38" x2="315.55" y2="852.38" stroke="#444" stroke-width="0.9"/>
<line x1="36.6" y1="815.25" x2="39.300000000000004" y2="815.25" stroke="#444" stroke-width="0.9"/>
<line x1="318.25" y1="815.25" x2="315.55" y2="815.25" stroke="#444" stroke-width="0.9"/>
<line x1="36.6" y1="778.12" x2="39.300000000000004" y2="778.12" stroke="#444" stroke-width="0.9"/>
<line x1="318.25" y1="778.12" x2="315.55" y2="778.12" stroke="#444" stroke-width="0.9"/>
<line x1="36.6" y1="741.00" x2="39.300000000000004" y2="741.00" stroke="#444" stroke-width="0.9"/>
<line x1="318.25" y1="741.00" x2="315.55" y2="741.00" stroke="#444" stroke-width="0.9"/>
<line x1="36.6" y1="703.88" x2="39.300000000000004" y2="703.88" stroke="#444" stroke-width="0.9"/>
<line x1="318.25" y1="703.88" x2="315.55" y2="703.88" stroke="#444" stroke-width="0.9"/>
<line x1="36.6" y1="666.75" x2="39.300000000000004" y2="666.75" stroke="#444" stroke-width="0.9"/>
<line x1="318.25" y1="666.75" x2="315.55" y2="666.75" stroke="#444" stroke-width="0.9"/>
<line x1="107.01" y1="889.5" x2="107.01" y2="886.8" stroke="#444" stroke-width="0.9"/>
<line x1="107.01" y1="666.75" x2="107.01" y2="669.45" stroke="#444" stroke-width="0.9"/>
<line x1="177.42" y1="889.5" x2="177.42" y2="886.8" stroke="#444" stroke-width="0.9"/>
<line x1="177.42" y1="666.75" x2="177.42" y2="669.45" stroke="#444" stroke-width="0.9"/>
<line x1="247.84" y1="889.5" x2="247.84" y2="886.8" stroke="#444" stroke-width="0.9"/>
<line x1="247.84" y1="666.75" x2="247.84" y2="669.45" stroke="#444" stroke-width="0.9"/>
<rect x="36.6" y="666.75" width="281.65" height="222.75" fill="none" stroke="#4a4a4a" stroke-width="1"/>
<text transform="translate(34.00,892.50) scale(1,1.08)" text-anchor="end" font-size="9.2" class="t">-0.4</text>
<text transform="translate(34.00,855.38) scale(1,1.08)" text-anchor="end" font-size="9.2" class="t">-0.3</text>
<text transform="translate(34.00,818.25) scale(1,1.08)" text-anchor="end" font-size="9.2" class="t">-0.2</text>
<text transform="translate(34.00,781.12) scale(1,1.08)" text-anchor="end" font-size="9.2" class="t">-0.1</text>
<text transform="translate(34.00,744.00) scale(1,1.08)" text-anchor="end" font-size="9.2" class="t">0.0</text>
<text transform="translate(34.00,706.88) scale(1,1.08)" text-anchor="end" font-size="9.2" class="t">0.1</text>
<text transform="translate(34.00,669.75) scale(1,1.08)" text-anchor="end" font-size="9.2" class="t">0.2</text>
<text x="106.01" y="898.9" text-anchor="middle" font-size="9.5" class="t">fair</text>
<text x="176.42" y="898.9" text-anchor="middle" font-size="9.5" class="t">unfair</text>
<text x="246.84" y="898.9" text-anchor="middle" font-size="9.5" class="t">hyper-unfair</text>
<text x="172.8" y="914.1" text-anchor="middle" font-size="11.6" class="t" style="stroke-width:0.08px">fairness</text>
<text transform="translate(13.2,776.4) rotate(-90) scale(1,1)" text-anchor="middle" font-size="14.2" class="t" style="stroke-width:0.05px">modularity</text>
<text x="3" y="679.7" font-size="11.5" class="t" style="stroke-width:0.05px">d)</text>
<polyline points="109.5,695 109.5,687.5 256,687.5 256,695" fill="none" stroke="#000" stroke-width="1.7"/>
<polyline points="109.5,715 109.5,705.5 185.5,705.5 185.5,715" fill="none" stroke="#000" stroke-width="1.7"/>
<polyline points="194,746.5 203,746.5 203,804 194,804" fill="none" stroke="#000" stroke-width="1.7"/>
<polyline points="266.5,740 276.5,740 276.5,805.5 266.5,805.5" fill="none" stroke="#000" stroke-width="1.7"/>
<use href="#star" x="184" y="680.5"/>
<use href="#star" x="148" y="699.5"/>
<use href="#star" x="212" y="778.0"/>
<use href="#star" x="285.5" y="774.5"/>
<line x1="100.01" y1="846.43" x2="100.01" y2="733.58" stroke="#f00" stroke-width="3"/>
<line x1="95.71" y1="846.43" x2="104.31" y2="846.43" stroke="#f00" stroke-width="2.6"/>
<line x1="95.71" y1="733.58" x2="104.31" y2="733.58" stroke="#f00" stroke-width="2.6"/>
<line x1="170.42" y1="856.46" x2="170.42" y2="773.30" stroke="#f00" stroke-width="3"/>
<line x1="166.12" y1="856.46" x2="174.72" y2="856.46" stroke="#f00" stroke-width="2.6"/>
<line x1="166.12" y1="773.30" x2="174.72" y2="773.30" stroke="#f00" stroke-width="2.6"/>
<line x1="240.84" y1="848.66" x2="240.84" y2="758.45" stroke="#f00" stroke-width="3"/>
<line x1="236.54" y1="848.66" x2="245.14" y2="848.66" stroke="#f00" stroke-width="2.6"/>
<line x1="236.54" y1="758.45" x2="245.14" y2="758.45" stroke="#f00" stroke-width="2.6"/>
<polyline points="100.01,790.38 170.42,814.51 240.84,803.37" fill="none" stroke="#f00" stroke-width="3.2"/>
<circle cx="100.01" cy="790.38" r="3.6" fill="#f00"/>
<circle cx="170.42" cy="814.51" r="3.6" fill="#f00"/>
<circle cx="240.84" cy="803.37" r="3.6" fill="#f00"/>
<line x1="114.01" y1="829.36" x2="114.01" y2="776.27" stroke="#00f" stroke-width="3"/>
<line x1="109.71" y1="829.36" x2="118.31" y2="829.36" stroke="#00f" stroke-width="2.6"/>
<line x1="109.71" y1="776.27" x2="118.31" y2="776.27" stroke="#00f" stroke-width="2.6"/>
<line x1="184.42" y1="765.87" x2="184.42" y2="720.21" stroke="#00f" stroke-width="3"/>
<line x1="180.12" y1="765.87" x2="188.72" y2="765.87" stroke="#00f" stroke-width="2.6"/>
<line x1="180.12" y1="720.21" x2="188.72" y2="720.21" stroke="#00f" stroke-width="2.6"/>
<line x1="254.84" y1="768.47" x2="254.84" y2="715.75" stroke="#00f" stroke-width="3"/>
<line x1="250.54" y1="768.47" x2="259.14" y2="768.47" stroke="#00f" stroke-width="2.6"/>
<line x1="250.54" y1="715.75" x2="259.14" y2="715.75" stroke="#00f" stroke-width="2.6"/>
<polyline points="114.01,801.88 184.42,742.26 254.84,741.74" fill="none" stroke="#00f" stroke-width="3.2" stroke-dasharray="9.4 8.9"/>
<rect x="110.41" y="798.28" width="7.2" height="7.2" fill="#00f"/>
<rect x="180.82" y="738.66" width="7.2" height="7.2" fill="#00f"/>
<rect x="251.24" y="738.14" width="7.2" height="7.2" fill="#00f"/>
<line x1="36.6" y1="852.38" x2="318.25" y2="852.38" stroke="#3a3a3a" stroke-width="1.1" stroke-dasharray="1.4 5.29" stroke-dashoffset="0.7"/>
<line x1="36.6" y1="815.25" x2="318.25" y2="815.25" stroke="#3a3a3a" stroke-width="1.1" stroke-dasharray="1.4 5.29" stroke-dashoffset="0.7"/>
<line x1="36.6" y1="778.12" x2="318.25" y2="778.12" stroke="#3a3a3a" stroke-width="1.1" stroke-dasharray="1.4 5.29" stroke-dashoffset="0.7"/>
<line x1="36.6" y1="741.00" x2="318.25" y2="741.00" stroke="#3a3a3a" stroke-width="1.1" stroke-dasharray="1.4 5.29" stroke-dashoffset="0.7"/>
<line x1="36.6" y1="703.88" x2="318.25" y2="703.88" stroke="#3a3a3a" stroke-width="1.1" stroke-dasharray="1.4 5.29" stroke-dashoffset="0.7"/>
<line x1="36.6" y1="666.75" x2="318.25" y2="666.75" stroke="#3a3a3a" stroke-width="1.1" stroke-dasharray="1.4 5.29" stroke-dashoffset="0.7"/>
<line x1="107.01" y1="889.5" x2="107.01" y2="666.75" stroke="#3a3a3a" stroke-width="1.1" stroke-dasharray="1.4 5.29" stroke-dashoffset="0.7"/>
<line x1="177.42" y1="889.5" x2="177.42" y2="666.75" stroke="#3a3a3a" stroke-width="1.1" stroke-dasharray="1.4 5.29" stroke-dashoffset="0.7"/>
<line x1="247.84" y1="889.5" x2="247.84" y2="666.75" stroke="#3a3a3a" stroke-width="1.1" stroke-dasharray="1.4 5.29" stroke-dashoffset="0.7"/>
<rect x="262.5" y="672.5" width="49.5" height="17.5" fill="#fff" stroke="#000" stroke-width="1"/>
<line x1="266.0" y1="676.4" x2="284.9" y2="676.4" stroke="#f00" stroke-width="2.7"/>
<circle cx="276.0" cy="676.4" r="2.8" fill="#f00"/>
<line x1="266.0" y1="684.8" x2="284.9" y2="684.8" stroke="#00f" stroke-width="2.4" stroke-dasharray="2.6 1.4"/>
<rect x="270.8" y="682.0" width="6.4" height="5.6" fill="#00f"/>
<text x="285.3" y="678.6" font-size="6.5" fill="#222">hum&gt;PC</text>
<text x="285.3" y="687.0" font-size="6.5" fill="#222">hum&lt;PC</text>
<line x1="375.5" y1="889.50" x2="378.2" y2="889.50" stroke="#444" stroke-width="0.9"/>
<line x1="658" y1="889.50" x2="655.3" y2="889.50" stroke="#444" stroke-width="0.9"/>
<line x1="375.5" y1="864.78" x2="378.2" y2="864.78" stroke="#444" stroke-width="0.9"/>
<line x1="658" y1="864.78" x2="655.3" y2="864.78" stroke="#444" stroke-width="0.9"/>
<line x1="375.5" y1="840.06" x2="378.2" y2="840.06" stroke="#444" stroke-width="0.9"/>
<line x1="658" y1="840.06" x2="655.3" y2="840.06" stroke="#444" stroke-width="0.9"/>
<line x1="375.5" y1="815.33" x2="378.2" y2="815.33" stroke="#444" stroke-width="0.9"/>
<line x1="658" y1="815.33" x2="655.3" y2="815.33" stroke="#444" stroke-width="0.9"/>
<line x1="375.5" y1="790.61" x2="378.2" y2="790.61" stroke="#444" stroke-width="0.9"/>
<line x1="658" y1="790.61" x2="655.3" y2="790.61" stroke="#444" stroke-width="0.9"/>
<line x1="375.5" y1="765.89" x2="378.2" y2="765.89" stroke="#444" stroke-width="0.9"/>
<line x1="658" y1="765.89" x2="655.3" y2="765.89" stroke="#444" stroke-width="0.9"/>
<line x1="375.5" y1="741.17" x2="378.2" y2="741.17" stroke="#444" stroke-width="0.9"/>
<line x1="658" y1="741.17" x2="655.3" y2="741.17" stroke="#444" stroke-width="0.9"/>
<line x1="375.5" y1="716.44" x2="378.2" y2="716.44" stroke="#444" stroke-width="0.9"/>
<line x1="658" y1="716.44" x2="655.3" y2="716.44" stroke="#444" stroke-width="0.9"/>
<line x1="375.5" y1="691.72" x2="378.2" y2="691.72" stroke="#444" stroke-width="0.9"/>
<line x1="658" y1="691.72" x2="655.3" y2="691.72" stroke="#444" stroke-width="0.9"/>
<line x1="375.5" y1="667.00" x2="378.2" y2="667.00" stroke="#444" stroke-width="0.9"/>
<line x1="658" y1="667.00" x2="655.3" y2="667.00" stroke="#444" stroke-width="0.9"/>
<line x1="446.12" y1="889.5" x2="446.12" y2="886.8" stroke="#444" stroke-width="0.9"/>
<line x1="446.12" y1="667" x2="446.12" y2="669.7" stroke="#444" stroke-width="0.9"/>
<line x1="516.75" y1="889.5" x2="516.75" y2="886.8" stroke="#444" stroke-width="0.9"/>
<line x1="516.75" y1="667" x2="516.75" y2="669.7" stroke="#444" stroke-width="0.9"/>
<line x1="587.38" y1="889.5" x2="587.38" y2="886.8" stroke="#444" stroke-width="0.9"/>
<line x1="587.38" y1="667" x2="587.38" y2="669.7" stroke="#444" stroke-width="0.9"/>
<rect x="375.5" y="667" width="282.5" height="222.5" fill="none" stroke="#4a4a4a" stroke-width="1"/>
<text transform="translate(369.90,892.30) scale(1,1.08)" text-anchor="end" font-size="9.2" class="t">0.58</text>
<text transform="translate(369.90,867.58) scale(1,1.08)" text-anchor="end" font-size="9.2" class="t">0.60</text>
<text transform="translate(369.90,842.86) scale(1,1.08)" text-anchor="end" font-size="9.2" class="t">0.62</text>
<text transform="translate(369.90,818.13) scale(1,1.08)" text-anchor="end" font-size="9.2" class="t">0.64</text>
<text transform="translate(369.90,793.41) scale(1,1.08)" text-anchor="end" font-size="9.2" class="t">0.66</text>
<text transform="translate(369.90,768.69) scale(1,1.08)" text-anchor="end" font-size="9.2" class="t">0.68</text>
<text transform="translate(369.90,743.97) scale(1,1.08)" text-anchor="end" font-size="9.2" class="t">0.70</text>
<text transform="translate(369.90,719.24) scale(1,1.08)" text-anchor="end" font-size="9.2" class="t">0.72</text>
<text transform="translate(369.90,694.52) scale(1,1.08)" text-anchor="end" font-size="9.2" class="t">0.74</text>
<text transform="translate(369.90,669.80) scale(1,1.08)" text-anchor="end" font-size="9.2" class="t">0.76</text>
<text x="445.12" y="898.9" text-anchor="middle" font-size="9.5" class="t">fair</text>
<text x="515.75" y="898.9" text-anchor="middle" font-size="9.5" class="t">unfair</text>
<text x="586.38" y="898.9" text-anchor="middle" font-size="9.5" class="t">hyper-unfair</text>
<text x="511.2" y="914.1" text-anchor="middle" font-size="11.6" class="t" style="stroke-width:0.08px">fairness</text>
<text transform="translate(346.7,777.2) rotate(-90) scale(1,1)" text-anchor="middle" font-size="13.8" class="t" style="stroke-width:0.05px">divisibility</text>
<text x="338" y="680" font-size="11.5" class="t" style="stroke-width:0.05px">e)</text>
<polyline points="451.5,694 451.5,686 596.5,686 596.5,695" fill="none" stroke="#000" stroke-width="1.7"/>
<polyline points="451.5,712.5 451.5,703.5 526,703.5 526,712.5" fill="none" stroke="#000" stroke-width="1.7"/>
<polyline points="425,761.5 416.5,761.5 416.5,828 425,828" fill="none" stroke="#000" stroke-width="1.7"/>
<polyline points="529,746.5 538,746.5 538,805.5 529,805.5" fill="none" stroke="#000" stroke-width="1.7"/>
<polyline points="435,849 435,857.5 579,857.5 579,849" fill="none" stroke="#000" stroke-width="1.7"/>
<polyline points="435,868 435,876.5 510,876.5 510,868" fill="none" stroke="#000" stroke-width="1.7"/>
<use href="#star" x="525" y="678.5"/>
<use href="#star" x="489" y="697.0"/>
<use href="#star" x="405" y="796.5"/>
<use href="#star" x="546.5" y="778.0"/>
<use href="#star" x="544" y="865.5"/>
<use href="#star" x="473" y="884.5"/>
<line x1="438.62" y1="823.99" x2="438.62" y2="700.00" stroke="#f00" stroke-width="3"/>
<line x1="434.32" y1="823.99" x2="442.93" y2="823.99" stroke="#f00" stroke-width="2.6"/>
<line x1="434.32" y1="700.00" x2="442.93" y2="700.00" stroke="#f00" stroke-width="2.6"/>
<line x1="509.25" y1="853.65" x2="509.25" y2="753.53" stroke="#f00" stroke-width="3"/>
<line x1="504.95" y1="853.65" x2="513.55" y2="853.65" stroke="#f00" stroke-width="2.6"/>
<line x1="504.95" y1="753.53" x2="513.55" y2="753.53" stroke="#f00" stroke-width="2.6"/>
<line x1="579.88" y1="820.28" x2="579.88" y2="740.42" stroke="#f00" stroke-width="3"/>
<line x1="575.58" y1="820.28" x2="584.17" y2="820.28" stroke="#f00" stroke-width="2.6"/>
<line x1="575.58" y1="740.42" x2="584.17" y2="740.42" stroke="#f00" stroke-width="2.6"/>
<polyline points="438.62,761.93 509.25,802.35 579.88,781.34" fill="none" stroke="#f00" stroke-width="3.2"/>
<circle cx="438.62" cy="761.93" r="3.6" fill="#f00"/>
<circle cx="509.25" cy="802.35" r="3.6" fill="#f00"/>
<circle cx="579.88" cy="781.34" r="3.6" fill="#f00"/>
<line x1="453.12" y1="845.00" x2="453.12" y2="818.30" stroke="#00f" stroke-width="3"/>
<line x1="448.82" y1="845.00" x2="457.43" y2="845.00" stroke="#00f" stroke-width="2.6"/>
<line x1="448.82" y1="818.30" x2="457.43" y2="818.30" stroke="#00f" stroke-width="2.6"/>
<line x1="523.75" y1="768.36" x2="523.75" y2="717.68" stroke="#00f" stroke-width="3"/>
<line x1="519.45" y1="768.36" x2="528.05" y2="768.36" stroke="#00f" stroke-width="2.6"/>
<line x1="519.45" y1="717.68" x2="528.05" y2="717.68" stroke="#00f" stroke-width="2.6"/>
<line x1="594.38" y1="768.36" x2="594.38" y2="717.68" stroke="#00f" stroke-width="3"/>
<line x1="590.08" y1="768.36" x2="598.67" y2="768.36" stroke="#00f" stroke-width="2.6"/>
<line x1="590.08" y1="717.68" x2="598.67" y2="717.68" stroke="#00f" stroke-width="2.6"/>
<polyline points="453.12,830.78 523.75,742.40 594.38,742.40" fill="none" stroke="#00f" stroke-width="3.2" stroke-dasharray="9.4 8.9"/>
<rect x="449.52" y="827.18" width="7.2" height="7.2" fill="#00f"/>
<rect x="520.15" y="738.80" width="7.2" height="7.2" fill="#00f"/>
<rect x="590.77" y="738.80" width="7.2" height="7.2" fill="#00f"/>
<line x1="375.5" y1="864.78" x2="658" y2="864.78" stroke="#3a3a3a" stroke-width="1.1" stroke-dasharray="1.4 5.29" stroke-dashoffset="0.7"/>
<line x1="375.5" y1="840.06" x2="658" y2="840.06" stroke="#3a3a3a" stroke-width="1.1" stroke-dasharray="1.4 5.29" stroke-dashoffset="0.7"/>
<line x1="375.5" y1="815.33" x2="658" y2="815.33" stroke="#3a3a3a" stroke-width="1.1" stroke-dasharray="1.4 5.29" stroke-dashoffset="0.7"/>
<line x1="375.5" y1="790.61" x2="658" y2="790.61" stroke="#3a3a3a" stroke-width="1.1" stroke-dasharray="1.4 5.29" stroke-dashoffset="0.7"/>
<line x1="375.5" y1="765.89" x2="658" y2="765.89" stroke="#3a3a3a" stroke-width="1.1" stroke-dasharray="1.4 5.29" stroke-dashoffset="0.7"/>
<line x1="375.5" y1="741.17" x2="658" y2="741.17" stroke="#3a3a3a" stroke-width="1.1" stroke-dasharray="1.4 5.29" stroke-dashoffset="0.7"/>
<line x1="375.5" y1="716.44" x2="658" y2="716.44" stroke="#3a3a3a" stroke-width="1.1" stroke-dasharray="1.4 5.29" stroke-dashoffset="0.7"/>
<line x1="375.5" y1="691.72" x2="658" y2="691.72" stroke="#3a3a3a" stroke-width="1.1" stroke-dasharray="1.4 5.29" stroke-dashoffset="0.7"/>
<line x1="375.5" y1="667.00" x2="658" y2="667.00" stroke="#3a3a3a" stroke-width="1.1" stroke-dasharray="1.4 5.29" stroke-dashoffset="0.7"/>
<line x1="446.12" y1="889.5" x2="446.12" y2="667" stroke="#3a3a3a" stroke-width="1.1" stroke-dasharray="1.4 5.29" stroke-dashoffset="0.7"/>
<line x1="516.75" y1="889.5" x2="516.75" y2="667" stroke="#3a3a3a" stroke-width="1.1" stroke-dasharray="1.4 5.29" stroke-dashoffset="0.7"/>
<line x1="587.38" y1="889.5" x2="587.38" y2="667" stroke="#3a3a3a" stroke-width="1.1" stroke-dasharray="1.4 5.29" stroke-dashoffset="0.7"/>
<rect x="603" y="670.75" width="50.75" height="18.0" fill="#fff" stroke="#000" stroke-width="1"/>
<line x1="606.5" y1="674.7" x2="625.4" y2="674.7" stroke="#f00" stroke-width="2.7"/>
<circle cx="616.5" cy="674.7" r="2.8" fill="#f00"/>
<line x1="606.5" y1="683.4" x2="625.4" y2="683.4" stroke="#00f" stroke-width="2.4" stroke-dasharray="2.6 1.4"/>
<rect x="611.3" y="680.6" width="6.4" height="5.6" fill="#00f"/>
<text x="625.8" y="677.0" font-size="6.5" fill="#222">hum&gt;PC</text>
<text x="625.8" y="685.6" font-size="6.5" fill="#222">hum&lt;PC</text>
</svg></body></html>
